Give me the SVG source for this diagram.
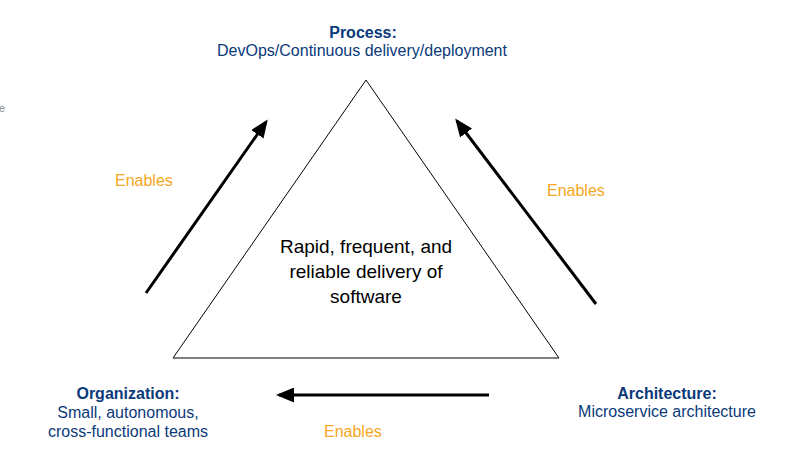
<svg xmlns="http://www.w3.org/2000/svg" width="800" height="452" viewBox="0 0 800 452">
<defs>
<marker id="ah" markerWidth="6" markerHeight="5" refX="5" refY="2.5" orient="auto" markerUnits="strokeWidth">
<path d="M0,0 L6,2.5 L0,5 Z" fill="#000"/>
</marker>
<style>
text{font-family:"Liberation Sans",Arial,sans-serif}
.t{font-size:16px;fill:#0b3a7a;text-anchor:middle}
.b{font-weight:bold}
.en{font-size:16px;fill:#f5a623}
.c{font-size:19px;fill:#000;text-anchor:middle}
.arr{stroke:#000;stroke-width:3;fill:none;marker-end:url(#ah)}
</style>
</defs>
<rect width="800" height="452" fill="#fff"/>
<text x="5" y="112" font-size="11" fill="#888" text-anchor="end">e</text>
<g id="triangle">
<polygon points="366,80 559,358 173,358" fill="#fff" stroke="#000" stroke-width="1"/>
<text class="c" x="366" y="253">Rapid, frequent, and</text>
<text class="c" x="366" y="278">reliable delivery of</text>
<text class="c" x="366" y="303">software</text>
</g>
<g id="process">
<text class="t b" x="363" y="38">Process:</text>
<text class="t" x="362" y="56">DevOps/Continuous delivery/deployment</text>
</g>
<g id="organization">
<text class="t b" x="128" y="399">Organization:</text>
<text class="t" x="128" y="418">Small, autonomous,</text>
<text class="t" x="128" y="437">cross-functional teams</text>
</g>
<g id="architecture">
<text class="t b" x="667" y="399">Architecture:</text>
<text class="t" x="667" y="417">Microservice architecture</text>
</g>
<g id="connectors">
<line class="arr" x1="146" y1="293" x2="266" y2="122"/>
<line class="arr" x1="596" y1="304" x2="457" y2="121"/>
<line class="arr" x1="489" y1="395" x2="279" y2="395"/>
<text class="en" x="115" y="186">Enables</text>
<text class="en" x="547" y="196">Enables</text>
<text class="en" x="324" y="437">Enables</text>
</g>
</svg>
